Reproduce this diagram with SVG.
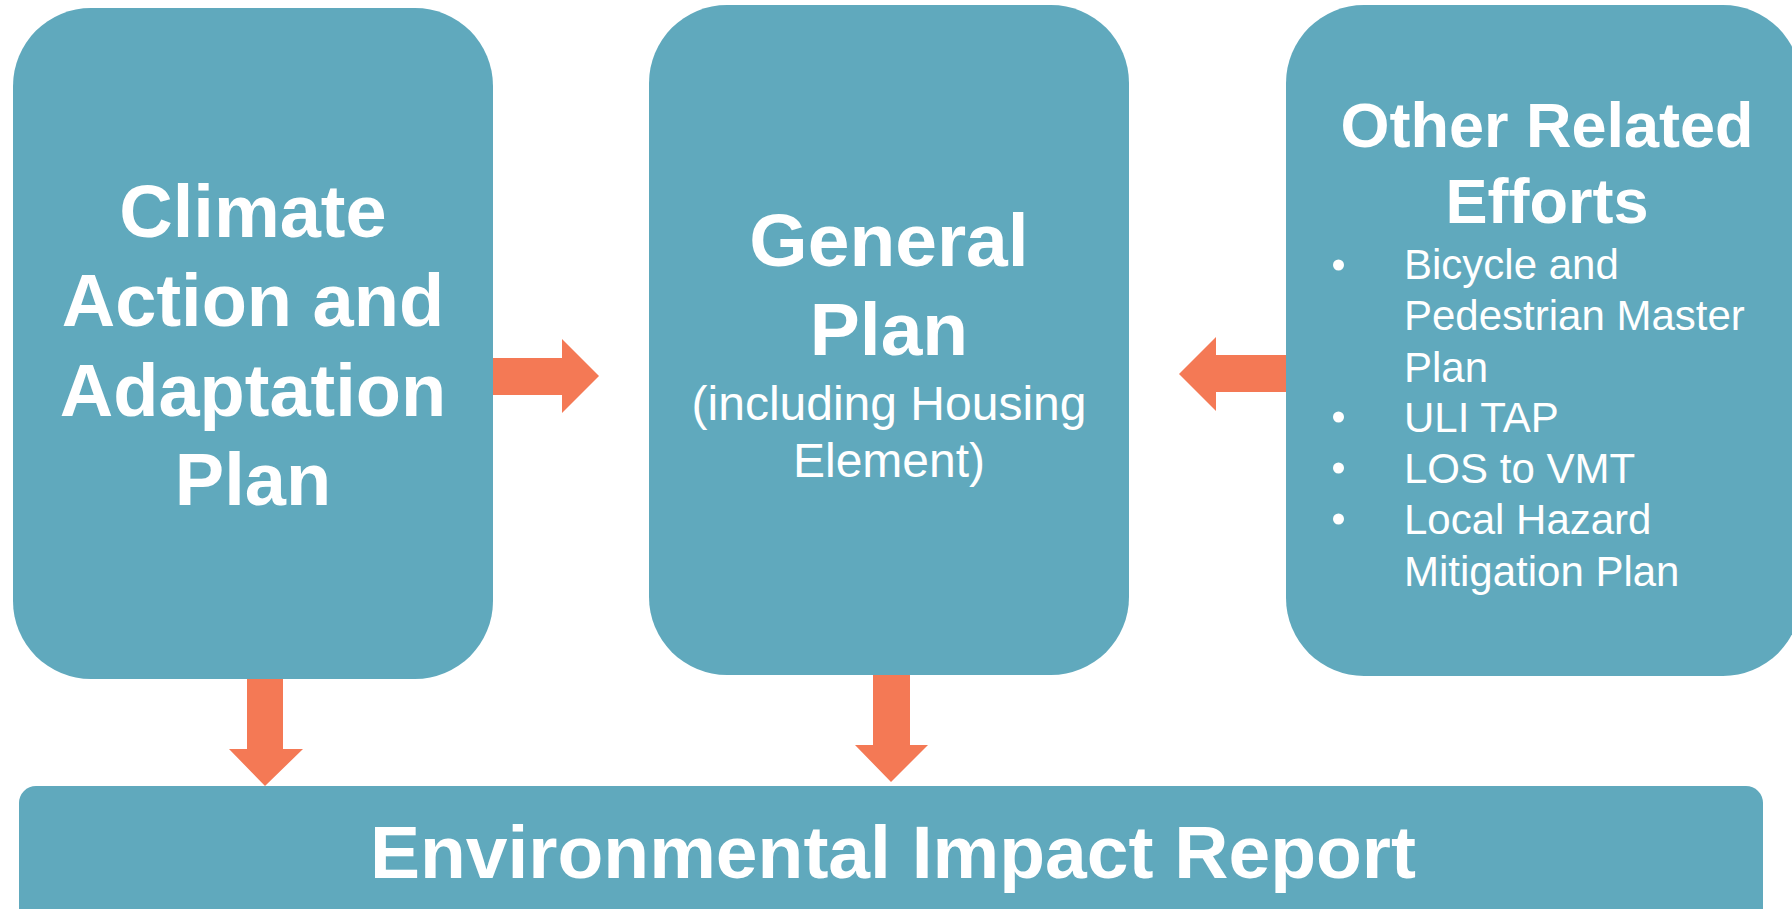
<svg xmlns="http://www.w3.org/2000/svg" width="1792" height="909" viewBox="0 0 1792 909">
  <style>
    .box { fill: #60A9BD; }
    .arrow { fill: #F47955; }
    .t { font-family: "Liberation Sans", Arial, sans-serif; fill: #FFFFFF; }
    .b { font-weight: bold; }
    .c { text-anchor: middle; }
  </style>
  <rect width="1792" height="909" fill="#FFFFFF"/>
  <g id="connectors">
    <polygon class="arrow" points="492,358 562,358 562,339 599,376 562,413 562,395 492,395"/>
    <polygon class="arrow" points="1286,355 1216,355 1216,337 1179,374 1216,411 1216,392 1286,392"/>
    <polygon class="arrow" points="247,678 283,678 283,749 303,749 265,786 229,749 247,749"/>
    <polygon class="arrow" points="873,675 910,675 910,745 928,745 891,782 855,745 873,745"/>
  </g>
  <g id="climate-action">
    <rect class="box" x="13" y="8" width="480" height="671" rx="78" ry="78"/>
    <text class="t b c" font-size="74"><tspan x="253" y="237">Climate</tspan><tspan x="253" y="326">Action and</tspan><tspan x="253" y="416">Adaptation</tspan><tspan x="253" y="505">Plan</tspan></text>
  </g>
  <g id="general-plan">
    <rect class="box" x="649" y="5" width="480" height="670" rx="78" ry="78"/>
    <text class="t b c" font-size="75"><tspan x="889" y="266">General</tspan><tspan x="889" y="355">Plan</tspan></text>
    <text class="t c" font-size="48"><tspan x="889" y="420">(including Housing</tspan><tspan x="889" y="477">Element)</tspan></text>
  </g>
  <g id="other-efforts">
    <rect class="box" x="1286" y="5" width="515" height="671" rx="78" ry="78"/>
    <text class="t b c" font-size="63"><tspan x="1547" y="147">Other Related</tspan><tspan x="1547" y="223">Efforts</tspan></text>
    <g fill="#FFFFFF">
      <circle cx="1338.5" cy="265" r="5.5"/>
      <circle cx="1338.5" cy="417" r="5.5"/>
      <circle cx="1338.5" cy="468" r="5.5"/>
      <circle cx="1338.5" cy="519" r="5.5"/>
    </g>
    <text class="t" font-size="42"><tspan x="1404" y="279">Bicycle and</tspan><tspan x="1404" y="330">Pedestrian Master</tspan><tspan x="1404" y="382">Plan</tspan><tspan x="1404" y="432">ULI TAP</tspan><tspan x="1404" y="483">LOS to VMT</tspan><tspan x="1404" y="534">Local Hazard</tspan><tspan x="1404" y="586">Mitigation Plan</tspan></text>
  </g>
  <g id="eir">
    <rect class="box" x="19" y="786" width="1744" height="160" rx="17" ry="17"/>
    <text class="t b c" font-size="75" x="893" y="878">Environmental Impact Report</text>
  </g>
</svg>
